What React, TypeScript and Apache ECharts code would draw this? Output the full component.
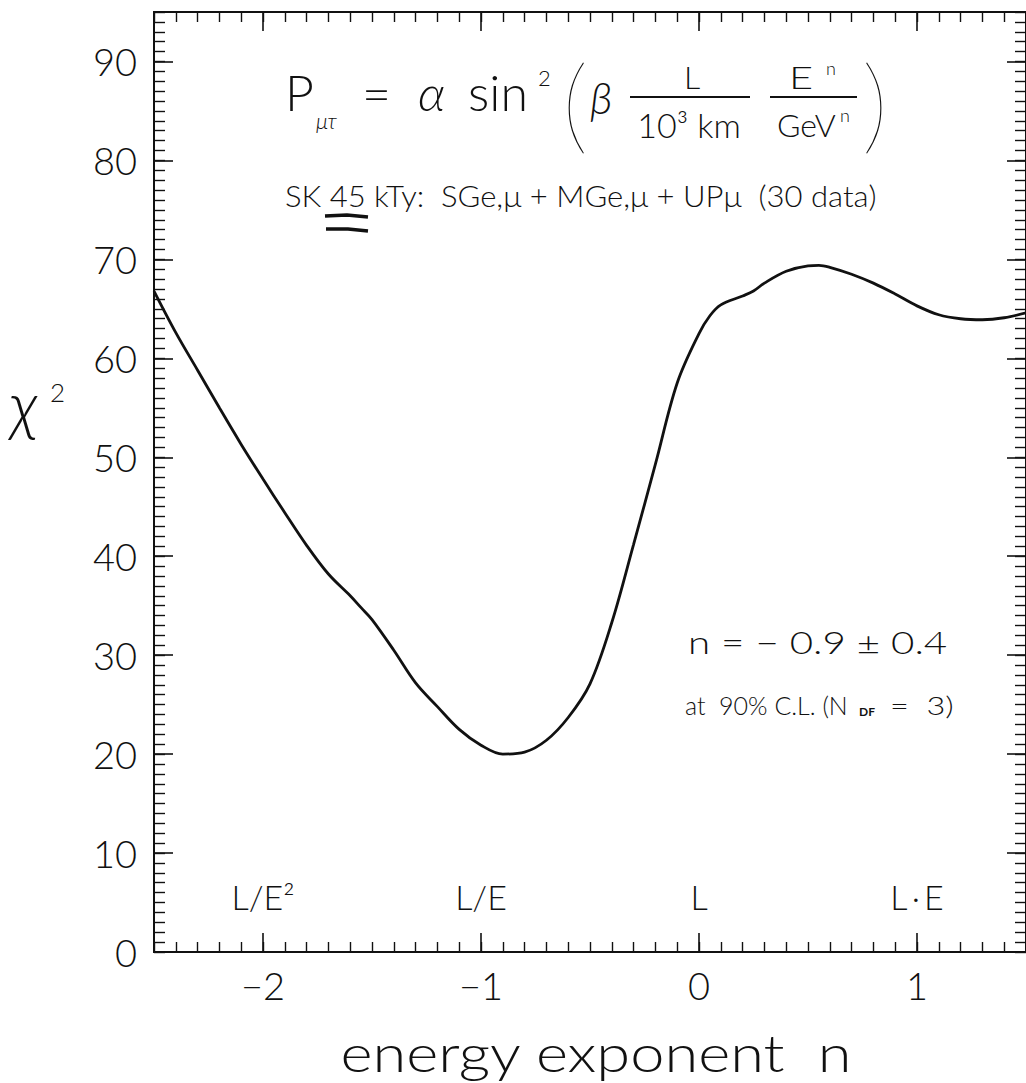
import React, { useEffect, useRef } from "react";
import * as echarts from "echarts";

// ---- data ----
const nValues = [
  -2.5, -2.4, -2.3, -2.2, -2.1, -2.0, -1.9, -1.8, -1.7, -1.6, -1.55, -1.5, -1.4,
  -1.3, -1.2, -1.1, -1.0, -0.9, -0.8, -0.7, -0.6, -0.5, -0.4, -0.3, -0.2, -0.1,
  0.0, 0.05, 0.1, 0.2, 0.25, 0.3, 0.4, 0.5, 0.55, 0.6, 0.7, 0.8, 0.9, 1.0, 1.1,
  1.2, 1.3, 1.4, 1.5,
];
const chi2Values = [
  66.8, 62.6, 58.8, 55.0, 51.3, 47.8, 44.4, 41.1, 38.2, 36.0, 34.8, 33.6, 30.5,
  27.2, 24.8, 22.5, 20.9, 20.0, 20.2, 21.4, 23.7, 27.1, 33.3, 41.2, 49.3, 57.5,
  62.5, 64.3, 65.4, 66.3, 66.8, 67.6, 68.8, 69.35, 69.4, 69.2, 68.5, 67.6, 66.5,
  65.3, 64.4, 64.0, 63.9, 64.1, 64.6,
];
const xMajorTicks = [-2, -1, 0, 1];
const yMajorTicks = [0, 10, 20, 30, 40, 50, 60, 70, 80, 90];
const regimeN = [-2, -1, 0, 1];
const regimeLabels = ["L/E²", "L/E", "L", "L\u2009·\u2009E"];

const FF = 'Lato, "Liberation Sans", Arial, sans-serif';
const FW = 300;
const INK = "#111";

const fmt = (v: number) => (v < 0 ? "−" + Math.abs(v) : String(v));

function txt(
  text: string,
  x: number,
  y: number,
  fontSize: number,
  extra: any = {},
  styleExtra: any = {}
) {
  return {
    type: "text",
    x,
    y,
    silent: true,
    ...extra,
    style: {
      text,
      fontSize,
      fontFamily: FF,
      fontWeight: FW,
      fill: INK,
      textAlign: "left",
      textVerticalAlign: "middle",
      ...styleExtra,
    },
  };
}

function hline(x1: number, x2: number, y: number, w = 2) {
  return {
    type: "line",
    silent: true,
    shape: { x1, y1: y, x2, y2: y },
    style: { stroke: INK, lineWidth: w },
  };
}

export default function App() {
  const ref = useRef<HTMLDivElement>(null);

  useEffect(() => {
    if (!ref.current) return;
    const chart = echarts.init(ref.current, undefined, { renderer: "svg" });

    const xBase = {
      type: "value",
      min: -2.5,
      max: 1.5,
      gridIndex: 0,
      axisLine: { show: false, onZero: false },
      splitLine: { show: false },
    };
    const yBase = {
      type: "value",
      min: 0,
      max: 95,
      gridIndex: 0,
      axisLine: { show: false, onZero: false },
      splitLine: { show: false },
    };
    const majorTickX = {
      inside: true,
      length: 19,
      customValues: xMajorTicks,
      lineStyle: { color: INK, width: 1.6 },
    };
    const minorTickX = {
      inside: true,
      length: 10,
      lineStyle: { color: INK, width: 1.4 },
    };
    const majorTickY = {
      inside: true,
      length: 19,
      customValues: yMajorTicks,
      lineStyle: { color: INK, width: 1.6 },
    };
    const minorTickY = {
      inside: true,
      length: 11,
      lineStyle: { color: INK, width: 1.4 },
    };

    const option: any = {
      animation: false,
      backgroundColor: "#ffffff",
      grid: {
        left: 154,
        top: 12,
        width: 876,
        height: 940,
        show: true,
        borderColor: INK,
        borderWidth: 2,
        backgroundColor: "transparent",
      },
      xAxis: [
        {
          ...xBase,
          position: "bottom",
          axisTick: majorTickX,
          axisLabel: {
            customValues: xMajorTicks,
            formatter: fmt,
            fontSize: 38,
            fontWeight: FW,
            color: INK,
            margin: 14,
            fontFamily: FF,
          },
        },
        { ...xBase, position: "top", axisTick: majorTickX, axisLabel: { show: false } },
        {
          ...xBase,
          position: "bottom",
          interval: 0.1,
          axisTick: minorTickX,
          axisLabel: { show: false },
        },
        {
          ...xBase,
          position: "top",
          interval: 0.1,
          axisTick: minorTickX,
          axisLabel: { show: false },
        },
      ],
      yAxis: [
        {
          ...yBase,
          position: "left",
          axisTick: majorTickY,
          axisLabel: {
            customValues: yMajorTicks,
            fontSize: 38,
            fontWeight: FW,
            color: INK,
            margin: 17,
            fontFamily: FF,
          },
        },
        { ...yBase, position: "right", axisTick: majorTickY, axisLabel: { show: false } },
        {
          ...yBase,
          position: "left",
          interval: 1,
          axisTick: minorTickY,
          axisLabel: { show: false },
        },
        {
          ...yBase,
          position: "right",
          interval: 1,
          axisTick: minorTickY,
          axisLabel: { show: false },
        },
      ],
      series: [
        {
          type: "line",
          xAxisIndex: 0,
          yAxisIndex: 0,
          data: nValues.map((n, i) => [n, chi2Values[i]]),
          smooth: 0.35,
          showSymbol: false,
          symbol: "none",
          clip: true,
          silent: true,
          lineStyle: { color: INK, width: 2.8 },
        },
        {
          type: "scatter",
          xAxisIndex: 0,
          yAxisIndex: 0,
          silent: true,
          symbolSize: 0,
          itemStyle: { opacity: 1, color: INK },
          data: regimeN.map((n, i) => ({ value: [n, 5.6], name: regimeLabels[i] })),
          label: {
            show: true,
            position: "inside",
            formatter: "{b}",
            fontSize: 34,
            fontWeight: FW,
            color: INK,
            opacity: 1,
            textBorderWidth: 0,
            fontFamily: FF,
          },
        },
      ],
      graphic: [
        // formula P_{mu tau} = alpha sin^2( beta L/10^3 km  E^n/GeV^n )
        txt("P", 285, 92, 50),
        txt("μτ", 316, 120, 22, {}, { fontStyle: "italic" }),
        txt("=", 362, 93, 50),
        txt("α", 418, 92, 50, {}, { fontStyle: "italic" }),
        txt("sin", 468, 92, 50),
        txt("2", 538, 77, 22),
        txt("(", 562, 100, 104, {}, { fontWeight: 200 }),
        txt("β", 590, 97, 44, {}, { fontStyle: "italic" }),
        hline(630, 750, 97),
        txt("L", 692, 76.5, 32, {}, { textAlign: "center" }),
        txt("10³ km", 689, 124.5, 34, {}, { textAlign: "center" }),
        hline(770, 857, 97),
        txt("E", 789, 76.5, 32, { scaleX: 1.3 }),
        txt("n", 826, 68, 18),
        txt("GeV", 777, 124.5, 32),
        txt("n", 840, 115, 18),
        txt(")", 862, 100, 104, {}, { fontWeight: 200 }),
        // data set description
        txt(
          "SK 45 kTy:\u00A0\u00A0SGe,μ + MGe,μ + UPμ\u00A0\u00A0(30 data)",
          285,
          195,
          29,
          { scaleX: 1.07 }
        ),
        {
          type: "polyline",
          silent: true,
          shape: { points: [[325, 216], [347, 215], [368, 217]] },
          style: { stroke: INK, lineWidth: 3.5, fill: null },
        },
        {
          type: "polyline",
          silent: true,
          shape: { points: [[326, 229], [348, 229], [368, 231]] },
          style: { stroke: INK, lineWidth: 3.5, fill: null },
        },
        // best-fit result
        txt("n = − 0.9 ± 0.4", 688, 642.5, 31, { scaleX: 1.3 }),
        txt("at\u00A0\u00A090% C.L.\u00A0(N", 685, 705, 25),
        txt("DF", 859, 711, 12, {}, { fontWeight: "bold" }),
        txt("=\u00A0\u00A03)", 890, 705, 25, { scaleX: 1.3 }),
        // axis titles
        txt(
          "energy exponent\u00A0\u00A0n",
          596,
          1052,
          52,
          { scaleX: 1.18 },
          { textAlign: "center", lineHeight: 52 }
        ),
        txt("χ", 10, 403, 66, {}, { fontStyle: "italic" }),
        txt("2", 50, 392, 26),
      ],
    };

    chart.setOption(option);
    return () => chart.dispose();
  }, []);

  return (
    <div
      ref={ref}
      style={{
        position: "absolute",
        left: 0,
        top: 0,
        width: 1026,
        height: 1083,
        background: "#fff",
      }}
    />
  );
}
